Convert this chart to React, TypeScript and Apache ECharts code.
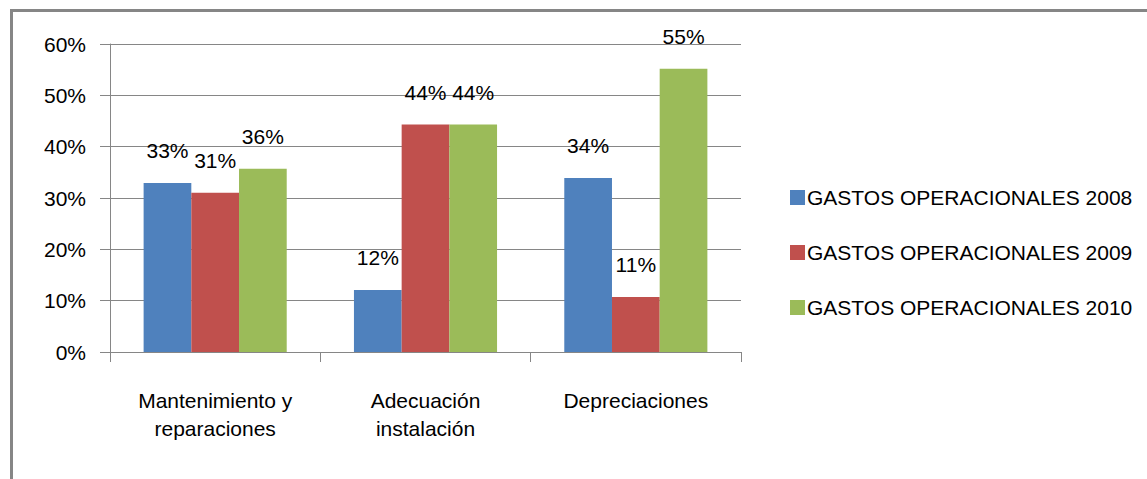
import React, { useEffect, useRef } from "react";
import * as echarts from "echarts";

const categories = ["Mantenimiento y\nreparaciones", "Adecuación\ninstalación", "Depreciaciones"];
const seriesNames = ["GASTOS OPERACIONALES 2008", "GASTOS OPERACIONALES 2009", "GASTOS OPERACIONALES 2010"];
const values2008 = [0.329, 0.121, 0.339];
const values2009 = [0.31, 0.443, 0.107];
const values2010 = [0.357, 0.443, 0.552];
const colors = ["#4F81BD", "#C0504D", "#9BBB59"];
const yTicks = { min: 0, max: 0.6, interval: 0.1 };

const FONT = "Liberation Sans";
const FS = 21;

export default function App() {
  const ref = useRef<HTMLDivElement>(null);
  useEffect(() => {
    if (!ref.current) return;
    const chart = echarts.init(ref.current, null, { renderer: "svg" });
    const allValues = [values2008, values2009, values2010];
    const gridColor = "#868686";
    chart.setOption({
      animation: false,
      backgroundColor: "#fff",
      textStyle: { fontFamily: FONT },
      grid: { left: 110, right: 406, top: 44, bottom: 127 },
      legend: {
        orient: "vertical",
        left: 785,
        top: 182,
        itemWidth: 15,
        itemHeight: 15,
        itemGap: 34,
        icon: "rect",
        textStyle: { fontFamily: FONT, fontSize: FS, color: "#000", lineHeight: 21, padding: [0, 0, 0, -3] },
        data: seriesNames,
      },
      xAxis: {
        type: "category",
        data: categories,
        axisLine: { lineStyle: { color: gridColor, width: 1 } },
        axisTick: { show: true, length: 10, alignWithLabel: false, lineStyle: { color: gridColor } },
        axisLabel: { color: "#000", fontSize: FS, lineHeight: 28, margin: 34, interval: 0, fontFamily: FONT },
      },
      yAxis: {
        type: "value",
        min: yTicks.min,
        max: yTicks.max,
        interval: yTicks.interval,
        axisLine: { show: true, lineStyle: { color: gridColor, width: 1 } },
        axisTick: { show: true, length: 10, lineStyle: { color: gridColor } },
        splitLine: { show: true, lineStyle: { color: gridColor, width: 1 } },
        axisLabel: {
          color: "#000",
          fontSize: FS,
          margin: 24,
          fontFamily: FONT,
          formatter: (v: number) => Math.round(v * 100) + "%",
        },
      },
      series: seriesNames.map((name, i) => ({
        name,
        type: "bar",
        data: allValues[i],
        barWidth: 47.7,
        barGap: "0%",
        itemStyle: { color: colors[i] },
        label: {
          show: true,
          position: "top",
          distance: 22,
          color: "#000",
          fontSize: FS,
          fontFamily: FONT,
          formatter: (p: any) => Math.round(p.value * 100) + "%",
        },
      })),
      graphic: [
        { type: "rect", shape: { x: 10, y: 9, width: 1140, height: 3 }, style: { fill: gridColor } },
        { type: "rect", shape: { x: 10, y: 9, width: 3, height: 475 }, style: { fill: gridColor } },
      ],
    });
    return () => chart.dispose();
  }, []);
  return (
    <div
      ref={ref}
      style={{ position: "fixed", left: 0, top: 0, width: 1147, height: 479 }}
    />
  );
}
